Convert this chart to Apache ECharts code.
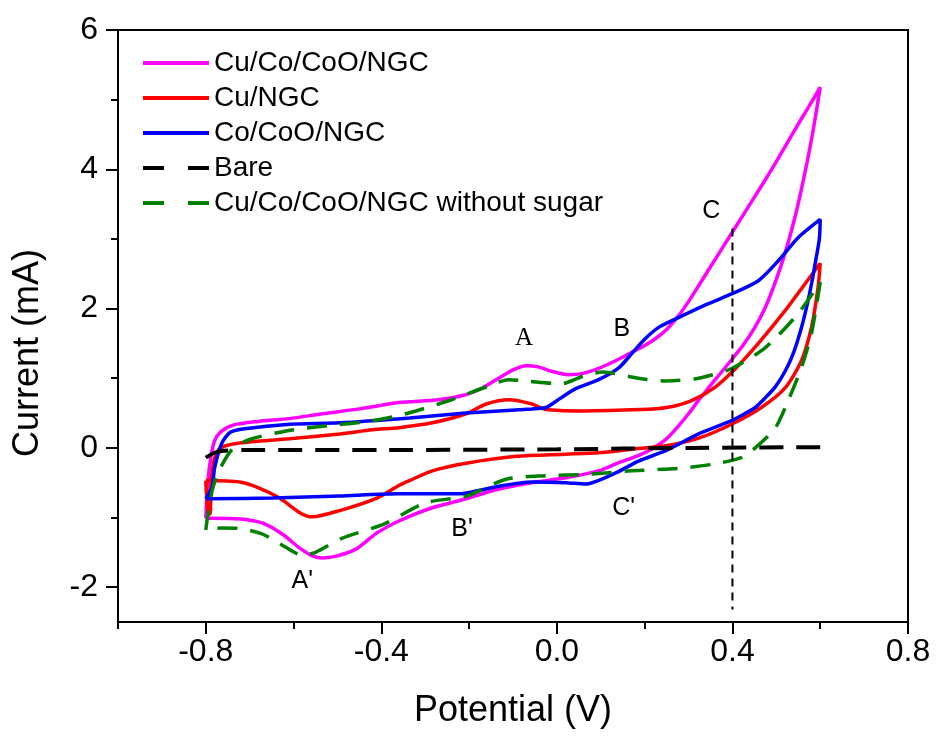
<!DOCTYPE html>
<html>
<head>
<meta charset="utf-8">
<script src="https://cdn.jsdelivr.net/npm/echarts@6/dist/echarts.min.js"></script>
<style>
  html, body { margin: 0; padding: 0; background: #fff; }
  #chart { width: 938px; height: 737px; }
</style>
</head>
<body>
<div id="chart"></div>
<script>
// tick values
var xMajorTicks = [-0.8, -0.4, 0.0, 0.4, 0.8];
var xMinorTicks = [-1.0, -0.6, -0.2, 0.2, 0.6];
var yMajorTicks = [-2, 0, 2, 4, 6];
var yMinorTicks = [-1, 1, 3, 5];

var seriesNames = ['Cu/Co/CoO/NGC', 'Cu/NGC', 'Co/CoO/NGC', 'Bare', 'Cu/Co/CoO/NGC without sugar'];

// Cu/Co/CoO/NGC  (potential V, current mA)
var cuCoData = [
    [-0.80, -1.01], [-0.795, -0.47], [-0.788, -0.12], [-0.78, 0.10], [-0.766, 0.23], [-0.736, 0.33],
    [-0.68, 0.38], [-0.61, 0.42], [-0.534, 0.49], [-0.45, 0.56], [-0.36, 0.65], [-0.27, 0.69],
    [-0.21, 0.76], [-0.17, 0.86], [-0.13, 1.01], [-0.10, 1.12], [-0.07, 1.18], [-0.04, 1.16],
    [-0.018, 1.11], [0.027, 1.05], [0.06, 1.07], [0.095, 1.14], [0.13, 1.24], [0.17, 1.37],
    [0.20, 1.47], [0.225, 1.57], [0.25, 1.70], [0.275, 1.88], [0.30, 2.10], [0.325, 2.35],
    [0.35, 2.60], [0.375, 2.85], [0.40, 3.10], [0.425, 3.35], [0.45, 3.60], [0.475, 3.85],
    [0.50, 4.11], [0.525, 4.38], [0.55, 4.65], [0.575, 4.91], [0.60, 5.18],
    [0.585, 4.60], [0.57, 4.10], [0.555, 3.65], [0.54, 3.25], [0.52, 2.80], [0.50, 2.42],
    [0.475, 2.02], [0.45, 1.72], [0.425, 1.48], [0.40, 1.28], [0.37, 1.05], [0.345, 0.86],
    [0.32, 0.66], [0.30, 0.49], [0.275, 0.30], [0.248, 0.12], [0.22, 0.0], [0.193, -0.09],
    [0.16, -0.17], [0.134, -0.23], [0.095, -0.33], [0.02, -0.43], [-0.057, -0.50], [-0.132, -0.59],
    [-0.207, -0.73], [-0.284, -0.86], [-0.36, -1.05], [-0.41, -1.22], [-0.457, -1.45], [-0.50, -1.55],
    [-0.534, -1.58], [-0.557, -1.55], [-0.586, -1.44], [-0.625, -1.24], [-0.67, -1.08], [-0.72, -1.02],
    [-0.79, -1.01], [-0.80, -1.01]
];

// Cu/NGC
var cuData = [
    [-0.80, -0.47], [-0.795, -0.93], [-0.79, -0.95], [-0.788, -0.5], [-0.78, -0.15], [-0.77, -0.02],
    [-0.755, 0.03], [-0.723, 0.07], [-0.61, 0.13], [-0.495, 0.20], [-0.42, 0.26], [-0.36, 0.29],
    [-0.284, 0.36], [-0.207, 0.49], [-0.161, 0.63], [-0.109, 0.69], [-0.057, 0.63], [-0.025, 0.55],
    [0.057, 0.53], [0.19, 0.55], [0.25, 0.58], [0.307, 0.68], [0.36, 0.87], [0.407, 1.14],
    [0.459, 1.50], [0.52, 1.97], [0.566, 2.36], [0.60, 2.65],
    [0.595, 2.30], [0.58, 1.73], [0.557, 1.25], [0.52, 0.86], [0.466, 0.58], [0.398, 0.34],
    [0.323, 0.14], [0.248, 0.03], [0.17, -0.02], [0.095, -0.07], [0.02, -0.09], [-0.093, -0.12],
    [-0.207, -0.22], [-0.284, -0.33], [-0.336, -0.47], [-0.36, -0.54], [-0.41, -0.72], [-0.495, -0.90],
    [-0.557, -0.99], [-0.586, -0.93], [-0.632, -0.72], [-0.677, -0.58], [-0.723, -0.49], [-0.80, -0.47]
];

// Co/CoO/NGC
var coData = [
    [-0.80, -0.73], [-0.785, -0.55], [-0.78, -0.29], [-0.764, 0.06], [-0.745, 0.22], [-0.716, 0.27],
    [-0.609, 0.34], [-0.495, 0.36], [-0.336, 0.43], [-0.207, 0.50], [-0.057, 0.56], [-0.025, 0.58],
    [0.005, 0.70], [0.043, 0.85], [0.095, 0.98], [0.141, 1.15], [0.17, 1.35], [0.20, 1.56],
    [0.232, 1.73], [0.277, 1.87], [0.345, 2.07], [0.398, 2.21], [0.459, 2.40], [0.505, 2.69],
    [0.55, 3.02], [0.60, 3.28],
    [0.598, 3.00], [0.59, 2.70], [0.58, 2.35], [0.57, 2.05], [0.557, 1.72], [0.54, 1.38],
    [0.52, 1.10], [0.498, 0.88], [0.475, 0.72], [0.452, 0.58], [0.425, 0.48], [0.398, 0.39],
    [0.323, 0.20], [0.248, -0.04], [0.186, -0.19], [0.134, -0.36], [0.066, -0.52],
    [0.02, -0.50], [-0.057, -0.49], [-0.132, -0.55], [-0.184, -0.62], [-0.223, -0.66], [-0.36, -0.66],
    [-0.495, -0.69], [-0.648, -0.72], [-0.80, -0.73]
];

// Bare
var bareData = [
    [-0.80, -0.14], [-0.78, -0.07], [-0.76, -0.04], [-0.70, -0.03], [-0.40, -0.03], [0.0, -0.02],
    [0.30, 0.0], [0.60, 0.01]
];

// Cu/Co/CoO/NGC without sugar
var noSugarData = [
    [-0.80, -1.18], [-0.795, -0.95], [-0.785, -0.6], [-0.77, -0.33], [-0.74, -0.02], [-0.70, 0.12],
    [-0.62, 0.24], [-0.52, 0.32], [-0.43, 0.38], [-0.35, 0.48], [-0.245, 0.68], [-0.155, 0.89],
    [-0.11, 0.98], [-0.07, 0.96], [0.011, 0.92], [0.06, 1.03], [0.105, 1.09], [0.186, 1.0],
    [0.248, 0.96], [0.323, 1.0], [0.398, 1.14], [0.475, 1.44], [0.55, 1.93], [0.60, 2.38],
    [0.58, 1.64], [0.557, 1.15], [0.527, 0.68], [0.498, 0.29], [0.452, 0.0], [0.42, -0.14],
    [0.36, -0.23], [0.284, -0.29], [0.17, -0.33], [0.066, -0.38], [-0.025, -0.40], [-0.116, -0.45],
    [-0.205, -0.69], [-0.30, -0.79], [-0.393, -1.09], [-0.49, -1.30], [-0.55, -1.50], [-0.58, -1.54],
    [-0.62, -1.42], [-0.67, -1.24], [-0.72, -1.16], [-0.764, -1.15], [-0.80, -1.18]
];

// vertical guide at 0.4 V
var guideData = [[0.4, 3.15], [0.4, -2.32]];

// peak labels
var peakNames = ['A', 'B', 'C', "A'", "B'", "C'"];
var peakX = [-0.075, 0.148, 0.352, -0.58, -0.216, 0.152];
var peakY = [1.57, 1.70, 3.40, -1.91, -1.17, -0.86];

var font = "'Liberation Sans', Arial, sans-serif";

function draw_chart() {
    var myChart = echarts.init(document.getElementById('chart'));

    function curve(name, data, color, dash, width) {
        return {
            name: name,
            type: 'line',
            data: data,
            symbol: 'none',
            smooth: 0.25,
            xAxisIndex: 0,
            yAxisIndex: 0,
            lineStyle: {color: color, width: width, type: dash},
            itemStyle: {color: color},
            animation: false
        };
    }

    var labelData = peakNames.map(function (n, i) {
        return {
            name: n,
            value: [peakX[i], peakY[i]],
            label: n === 'A' ? {fontFamily: "'Liberation Serif', 'Times New Roman', serif", fontSize: 25} : {}
        };
    });

    var option = {
        backgroundColor: '#fff',
        animation: false,
        grid: {
            left: 118, right: 30, top: 30, bottom: 115,
            show: true, borderColor: '#000', borderWidth: 2, backgroundColor: 'transparent'
        },
        legend: {
            data: [
                {name: seriesNames[0], lineStyle: {width: 4}},
                {name: seriesNames[1], lineStyle: {width: 4}},
                {name: seriesNames[2], lineStyle: {width: 4}},
                {name: seriesNames[3], lineStyle: {width: 4, type: [21, 24]}},
                {name: seriesNames[4], lineStyle: {width: 4, type: [21, 24]}}
            ],
            orient: 'vertical',
            left: 141,
            top: 49,
            padding: 0,
            itemWidth: 66,
            itemHeight: 14,
            itemGap: 7,
            itemTextGap: 10,
            itemStyle: {opacity: 0},
            textStyle: {fontSize: 28, fontFamily: font, color: '#000', lineHeight: 28}
        },
        xAxis: [{
            type: 'value', min: -1.0, max: 0.8, position: 'bottom',
            axisLine: {onZero: false, lineStyle: {color: '#000', width: 2}},
            axisTick: {show: true, customValues: xMajorTicks, length: 12, lineStyle: {color: '#000', width: 2}},
            axisLabel: {
                customValues: xMajorTicks, margin: 14, fontSize: 32, fontFamily: font, color: '#000',
                formatter: function (v) { return v.toFixed(1); }
            },
            splitLine: {show: false},
            name: 'Potential (V)', nameLocation: 'middle', nameGap: 71,
            nameTextStyle: {fontSize: 36, fontFamily: font, color: '#000'}
        }, {
            type: 'value', min: -1.0, max: 0.8, position: 'bottom',
            axisLine: {show: false, onZero: false},
            axisTick: {show: true, customValues: xMinorTicks, length: 7, lineStyle: {color: '#000', width: 2}},
            axisLabel: {show: false},
            splitLine: {show: false}
        }],
        yAxis: [{
            type: 'value', min: -2.5, max: 6, position: 'left',
            axisLine: {onZero: false, lineStyle: {color: '#000', width: 2}},
            axisTick: {show: true, customValues: yMajorTicks, length: 12, lineStyle: {color: '#000', width: 2}},
            axisLabel: {
                customValues: yMajorTicks, margin: 20, fontSize: 32, fontFamily: font, color: '#000'
            },
            splitLine: {show: false},
            name: 'Current (mA)', nameLocation: 'middle', nameGap: 72,
            nameTextStyle: {fontSize: 36, fontFamily: font, color: '#000', padding: [0, 54, 0, 0]}
        }, {
            type: 'value', min: -2.5, max: 6, position: 'left',
            axisLine: {show: false, onZero: false},
            axisTick: {show: true, customValues: yMinorTicks, length: 7, lineStyle: {color: '#000', width: 2}},
            axisLabel: {show: false},
            splitLine: {show: false}
        }],
        series: [
            curve(seriesNames[0], cuCoData, '#ff00ff', 'solid', 3.5),
            curve(seriesNames[1], cuData, '#ff0000', 'solid', 3.5),
            curve(seriesNames[2], coData, '#0000ff', 'solid', 3.5),
            curve(seriesNames[3], bareData, '#000000', [24, 13], 4),
            curve(seriesNames[4], noSugarData, '#008000', [20, 13], 3.5),
            {
                name: 'guide', type: 'line', data: guideData, symbol: 'none',
                lineStyle: {color: '#000', width: 2, type: [8, 6]}, silent: true
            },
            {
                name: 'labels', type: 'scatter', data: labelData, symbolSize: 0, silent: true,
                itemStyle: {opacity: 1},
                label: {
                    show: true, position: 'inside', formatter: function (p) { return p.name; },
                    fontSize: 25, fontFamily: font, color: '#000', opacity: 1
                }
            }
        ]
    };

    myChart.setOption(option);
}

draw_chart();
</script>
</body>
</html>
